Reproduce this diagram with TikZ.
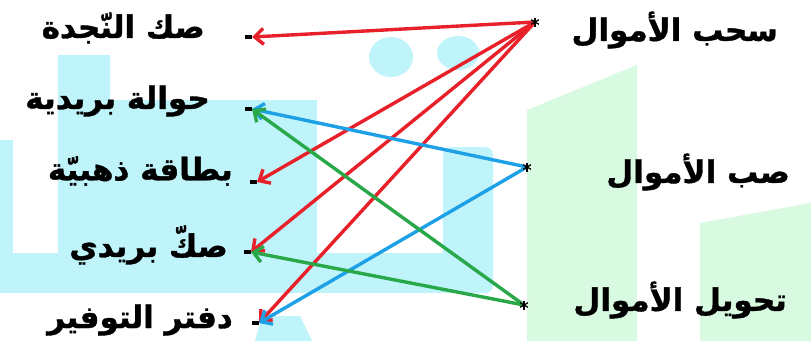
\documentclass[tikz,border=0pt]{standalone}
\usepackage{fontspec}
\newfontfamily\arabicfont[Script=Arabic, BoldFeatures={FakeBold=1.2}]{DejaVu Sans}
\TeXXeTstate=1
\usetikzlibrary{arrows.meta}
\definecolor{wmcyan}{RGB}{190,244,250}
\definecolor{wmgreen}{RGB}{216,250,224}
\definecolor{ared}{RGB}{232,32,42}
\definecolor{ablue}{RGB}{30,160,230}
\definecolor{agreen}{RGB}{40,168,72}
\begin{document}
\begin{tikzpicture}[x=1pt,y=-1pt,
  lbl/.style={font=\arabicfont\bfseries\fontsize{31}{36}\selectfont, inner sep=0pt, text=black},
  link/.style={line width=3.4pt, -{Straight Barb[length=9pt,width=16pt]}},
  dashmark/.style={fill=black, inner sep=0pt, minimum width=7pt, minimum height=4pt, anchor=east},
  starmark/.style={black, line width=1.3pt}]
% canvas
\fill[white] (0,0) rectangle (811,341);
\useasboundingbox (0,0) rectangle (811,341);
% watermark (faint background logo)
\fill[wmcyan] (0,140) rectangle (13,293);
\fill[wmcyan] (58,55) rectangle (110,293);
\fill[wmcyan] (110,100) rectangle (317,293);
\fill[wmcyan, rounded corners=8pt] (443,147) rectangle (493,293);
\fill[wmcyan] (0,253) rectangle (470,293);
\fill[wmcyan] (262,316) -- (300,316) -- (312,341) -- (255,341) -- cycle;
\fill[wmcyan] (391,57) ellipse [x radius=22, y radius=20];
\fill[wmcyan] (458,53) ellipse [x radius=21, y radius=17];
\fill[wmgreen] (527,110) -- (637,65) -- (637,341) -- (527,341) -- cycle;
\fill[wmgreen] (700,223) -- (811,203) -- (811,341) -- (700,341) -- cycle;
% left labels
\node[lbl, anchor=east] (l1) at (205,28) {\beginR صك النّجدة\endR};
\node[lbl, anchor=east] (l2) at (210,101) {\beginR حوالة بريدية\endR};
\node[lbl, anchor=east] (l3) at (233,171) {\beginR بطاقة ذهبيّة\endR};
\node[lbl, anchor=east] (l4) at (228,245) {\beginR صكّ بريدي\endR};
\node[lbl, anchor=east] (l5) at (233,320) {\beginR دفتر التوفير\endR};
% right labels
\node[lbl, anchor=east] (r1) at (778,30) {\beginR سحب الأموال\endR};
\node[lbl, anchor=east] (r2) at (790,172) {\beginR صب الأموال\endR};
\node[lbl, anchor=east] (r3) at (787,300) {\beginR تحويل الأموال\endR};
% end marks (dashes)
\node[dashmark] (d1) at (252,37) {};
\node[dashmark] (d2) at (252,109) {};
\node[dashmark] (d3) at (257,182) {};
\node[dashmark] (d4) at (251,252) {};
\node[dashmark] (d5) at (259,323) {};
% start points
\coordinate (s1) at (535,22);
\coordinate (s2) at (527,167);
\coordinate (s3) at (524,305);
% connectors
\draw[link, ared] (s1) -- (d1.east);
\draw[link, ared] (s1) -- (d3.east);
\draw[link, ared] (s1) -- (d4.east);
\draw[link, ared] (s1) -- (d5.east);
\draw[link, ablue] (s2) -- (d2.east);
\draw[link, ablue] (s2) -- (d5.east);
\draw[link, agreen] (s3) -- (d2.east);
\draw[link, agreen] (s3) -- (d4.east);
% asterisks
\foreach \s in {s1,s2,s3}{
  \foreach \a in {90,30,150}{
    \draw[starmark] (\s) ++(\a:4.5) -- ++(\a+180:9);
  }
}
\end{tikzpicture}
\end{document}
